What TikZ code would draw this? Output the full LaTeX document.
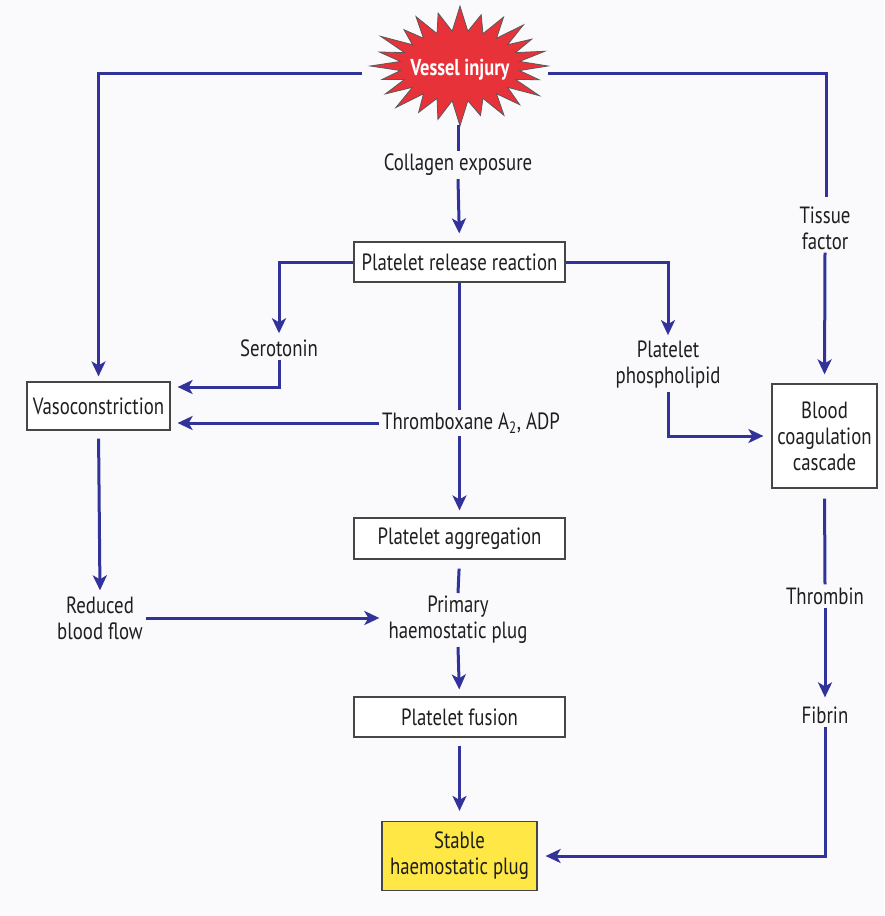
\documentclass[tikz,border=0pt]{standalone}
\usepackage{fontspec}
\setmainfont{PT Sans}[FakeStretch=0.8]
\usetikzlibrary{arrows.meta}
\definecolor{lineblue}{RGB}{50,50,155}
\definecolor{injred}{RGB}{232,50,58}
\definecolor{plugyellow}{RGB}{255,232,70}
\definecolor{boxedge}{RGB}{70,70,70}
\definecolor{txt}{RGB}{30,30,30}
\begin{document}
\begin{tikzpicture}[x=1pt,y=-1pt,
  every node/.style={font=\fontsize{23.5}{26}\selectfont, text=txt, align=center, inner sep=3pt},
  box/.style={draw=boxedge, line width=1.2pt, fill=white, inner sep=0pt},
  lbl/.style={inner sep=3pt},
  conn/.style={draw=lineblue, line width=3pt},
  arr/.style={conn, -{Stealth[length=15pt,width=14pt,inset=4pt]}}
]
\useasboundingbox[fill={rgb,255:red,250;green,250;blue,252}] (0,0) rectangle (884,916);

% starburst
\begin{scope}[shift={(460,66)}]
\def\facs{{1.0,0.93,1.04,0.96,1.0,0.9,1.05,0.97,0.94,1.03,0.98,0.92,1.02,0.95,1.04,0.9,1.0,0.96,1.05,0.93,0.99,1.02,0.94,1.0}}
\fill[injred, draw=black!65, line width=0.8pt, line join=miter]
  (0:{88*1.0} and {57*1.0})
  \foreach \k in {0,...,23}{
    -- ({\k*15+7.5}:60 and 35)
    -- ({\k*15+15}:{88*\facs[mod(\k+1,24)]} and {57*\facs[mod(\k+1,24)]})
  } -- cycle;
\end{scope}
\node[font=\fontsize{23}{26}\selectfont\bfseries, text=white] (inj) at (460,70) {Vessel injury};
\coordinate (injL) at (362,73);
\coordinate (injR) at (548,73);
\coordinate (injB) at (458,125);
\coordinate (tisTop) at (826,197);

% nodes
\node[lbl] (col) at (458,165) {Collagen exposure};
\node[box, minimum width=211pt, minimum height=40pt] (rel) at (459.5,262) {Platelet release reaction};
\node[lbl] (ser) at (279,348) {Serotonin};
\node[lbl] (thx) at (471,423) {Thromboxane A\textsubscript{2}, ADP};
\node[lbl] (php) at (668,365) {Platelet\\phospholipid};
\node[lbl] (tis) at (825,228) {Tissue\\factor};
\node[box, minimum width=143pt, minimum height=48pt] (vas) at (98.5,406) {Vasoconstriction};
\node[box, minimum width=105pt, minimum height=104pt] (coag) at (824.5,436) {Blood\\coagulation\\cascade};
\node[box, minimum width=211pt, minimum height=41pt] (agg) at (459.5,538.5) {Platelet aggregation};
\node[lbl] (red) at (100,618) {Reduced\\blood flow};
\node[lbl] (pri) at (458,620) {Primary\\haemostatic plug};
\node[lbl] (thr) at (825,596) {Thrombin};
\node[lbl] (fib) at (825,715) {Fibrin};
\node[box, minimum width=211pt, minimum height=40pt] (fus) at (459.5,717) {Platelet fusion};
\node[box, fill=plugyellow, minimum width=155pt, minimum height=69pt] (stab) at (459.5,856) {Stable\\haemostatic plug};

% connectors
\draw[arr, shorten >=5pt] (injL) -| (vas.north);
\draw[conn] (injR) -| (tisTop);
\draw[arr, shorten >=9pt] (tis.south) -- (coag.north);
\draw[conn] (injB) -- (col.north);
\draw[arr, shorten >=8pt] (col.south) -- (rel.north);
\draw[arr, shorten >=3pt] (rel.west) -| (ser.north);
\draw[arr, shorten >=7pt] (ser.south) |- ([yshift=19pt]vas.east);
\draw[arr, shorten >=7pt] (thx.west) -- ([yshift=-17pt]vas.east);
\draw[conn] (rel.south) -- (rel.south |- thx.north);
\draw[arr, shorten >=7pt] (thx.south -| rel.south) -- (agg.north);
\draw[arr, shorten >=3pt] (rel.east) -| (php.north);
\draw[arr, shorten >=8pt] (php.south) |- (coag.west);
\draw[arr, shorten >=3pt, shorten <=8pt] (vas.south) -- (red.north);
\draw[arr, shorten >=6pt] (red.east) -- (red.east -| pri.west);
\draw[conn, shorten <=9pt] (agg.south) -- (pri.north);
\draw[arr, shorten >=7pt] (pri.south) -- (fus.north);
\draw[arr, shorten >=10pt, shorten <=8pt] (fus.south) -- (stab.north);
\draw[conn, shorten <=10pt] (coag.south) -- (thr.north);
\draw[arr, shorten >=6pt] (thr.south) -- (fib.north);
\draw[arr, shorten >=8pt] (fib.south) |- (stab.east);
\end{tikzpicture}
\end{document}
